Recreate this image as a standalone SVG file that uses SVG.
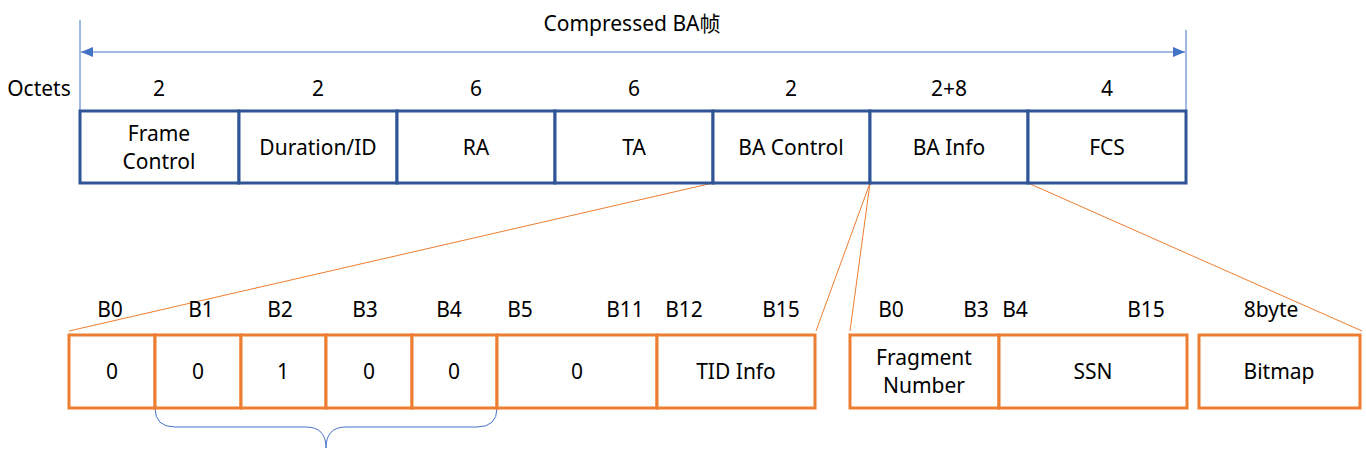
<svg xmlns="http://www.w3.org/2000/svg" width="1366" height="457" viewBox="0 0 1366 457">
<style>
text{font-family:"Noto Sans","Noto Sans CJK SC",sans-serif;font-size:21px;fill:#000;text-anchor:middle}
.top{fill:#fff;stroke:#2F5597;stroke-width:3}
.bot{fill:#fff;stroke:#ED7D31;stroke-width:3}
.ol{stroke:#ED7D31;stroke-width:1;fill:none}
.bl{stroke:#4472C4;stroke-width:1;fill:none}
</style>
<defs>
<marker id="ah" viewBox="0 0 12 10" refX="12" refY="5" markerWidth="12" markerHeight="10" markerUnits="userSpaceOnUse" orient="auto-start-reverse">
<path d="M0,0 L12,5 L0,10 Z" fill="#4472C4"/>
</marker>
</defs>
<rect width="1366" height="457" fill="#fff"/>
<g id="connectors">
<line class="bl" x1="80" y1="20" x2="80" y2="111"/>
<line class="bl" x1="1186" y1="30" x2="1186" y2="111"/>
<line class="bl" x1="81" y1="52" x2="1185" y2="52" marker-start="url(#ah)" marker-end="url(#ah)"/>
<line class="ol" x1="713" y1="183" x2="69" y2="331"/>
<line class="ol" x1="870" y1="183" x2="816" y2="331"/>
<line class="ol" x1="870" y1="183" x2="850" y2="331"/>
<line class="ol" x1="1028" y1="183" x2="1362" y2="331"/>
<path class="bl" d="M155,408 Q155,427 175,427 L306,427 Q326,427 326,448 Q326,427 346,427 L477,427 Q497,427 497,408"/>
</g>
<g id="title"><text x="632" y="31">Compressed BA帧</text></g>
<g id="octets"><text x="39" y="96">Octets</text>
<text x="159" y="96">2</text><text x="318" y="96">2</text><text x="476" y="96">6</text><text x="634" y="96">6</text><text x="791" y="96">2</text><text x="949" y="96">2+8</text><text x="1107" y="96">4</text></g>
<g id="frame-control"><rect class="top" x="80" y="111" width="159" height="72"/><text x="159" y="141">Frame</text><text x="159" y="169">Control</text></g>
<g id="duration"><rect class="top" x="239" y="111" width="158" height="72"/><text x="318" y="155">Duration/ID</text></g>
<g id="ra"><rect class="top" x="397" y="111" width="158" height="72"/><text x="476" y="155">RA</text></g>
<g id="ta"><rect class="top" x="555" y="111" width="158" height="72"/><text x="634" y="155">TA</text></g>
<g id="ba-control"><rect class="top" x="713" y="111" width="157" height="72"/><text x="791" y="155">BA Control</text></g>
<g id="ba-info"><rect class="top" x="870" y="111" width="158" height="72"/><text x="949" y="155">BA Info</text></g>
<g id="fcs"><rect class="top" x="1028" y="111" width="158" height="72"/><text x="1107" y="155">FCS</text></g>
<g id="bit-labels">
<text x="110" y="317">B0</text><text x="201" y="317">B1</text><text x="280" y="317">B2</text><text x="365" y="317">B3</text><text x="449" y="317">B4</text><text x="520" y="317">B5</text><text x="625" y="317">B11</text><text x="684" y="317">B12</text><text x="781" y="317">B15</text>
<text x="891" y="317">B0</text><text x="976" y="317">B3</text><text x="1015" y="317">B4</text><text x="1146" y="317">B15</text><text x="1271" y="317">8byte</text>
</g>
<g id="b0"><rect class="bot" x="69" y="335" width="86" height="73"/><text x="112" y="379">0</text></g>
<g id="b1"><rect class="bot" x="155" y="335" width="86" height="73"/><text x="198" y="379">0</text></g>
<g id="b2"><rect class="bot" x="241" y="335" width="85" height="73"/><text x="283" y="379">1</text></g>
<g id="b3"><rect class="bot" x="326" y="335" width="86" height="73"/><text x="369" y="379">0</text></g>
<g id="b4"><rect class="bot" x="412" y="335" width="85" height="73"/><text x="454" y="379">0</text></g>
<g id="b5-b11"><rect class="bot" x="497" y="335" width="160" height="73"/><text x="577" y="379">0</text></g>
<g id="tid-info"><rect class="bot" x="657" y="335" width="158" height="73"/><text x="736" y="379">TID Info</text></g>
<g id="fragment-number"><rect class="bot" x="850" y="335" width="149" height="73"/><text x="924" y="365">Fragment</text><text x="924" y="393">Number</text></g>
<g id="ssn"><rect class="bot" x="999" y="335" width="188" height="73"/><text x="1093" y="379">SSN</text></g>
<g id="bitmap"><rect class="bot" x="1199" y="335" width="161" height="73"/><text x="1279" y="379">Bitmap</text></g>
</svg>
